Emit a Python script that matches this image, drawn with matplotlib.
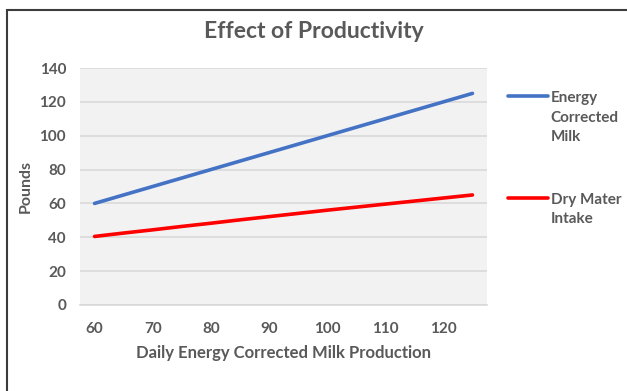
import matplotlib

matplotlib.use("Agg")
import matplotlib.pyplot as plt
from matplotlib.patches import Rectangle
import numpy as np

# daily energy-corrected milk production (lb), plotted as categories
milk_production = [60, 65, 70, 75, 80, 85, 90, 95, 100, 105, 110, 115, 120, 125]
ecm_pounds = [60, 65, 70, 75, 80, 85, 90, 95, 100, 105, 110, 115, 120, 125]
dmi_pounds = [40.5, 42.5, 44.4, 46.4, 48.3, 50.3, 52.2, 54.1, 56.0, 57.8, 59.6, 61.4, 63.2, 65.0]
x_ticks = [60, 70, 80, 90, 100, 110, 120]
y_ticks = [0, 20, 40, 60, 80, 100, 120, 140]

TXT = "#595959"
GRID = "#d9d9d9"
plt.rcParams["font.family"] = ["Lato", "DejaVu Sans"]

W, H = 627, 391
fig = plt.figure(figsize=(W / 100, H / 100), dpi=100)

# outer chart frame (only top and left edges fall inside the crop)
fig.add_artist(Rectangle((6.5 / W, -0.1), 1.2, 1.1 - 9.5 / H, transform=fig.transFigure,
                         fill=False, ec="#3c3c3c", lw=1.5))

ax = fig.add_axes([80 / W, (H - 305) / H, 407 / W, 237 / H])
ax.set_facecolor("#f2f2f2")

ax.plot(milk_production, ecm_pounds, color="#4472c4", lw=2.6, solid_capstyle="round",
        label="Energy\nCorrected\nMilk", zorder=3)
ax.plot(milk_production, dmi_pounds, color="#ff0000", lw=2.6, solid_capstyle="round",
        label="Dry Mater\nIntake", zorder=3)

ax.set_xlim(57.5, 127.5)
ax.set_ylim(0, 140)
ax.set_xticks(x_ticks)
ax.set_yticks(y_ticks)
ax.grid(axis="y", color=GRID, lw=1.2)
ax.set_axisbelow(True)
for s in ("top", "right", "left"):
    ax.spines[s].set_visible(False)
ax.spines["bottom"].set_color(GRID)
ax.spines["bottom"].set_linewidth(1.2)
ax.tick_params(length=0, labelsize=11, labelcolor=TXT)
ax.tick_params(axis="x", pad=12)
ax.tick_params(axis="y", pad=10)
for lab in ax.get_xticklabels() + ax.get_yticklabels():
    lab.set_fontweight("bold")

ax.set_xlabel("Daily Energy Corrected Milk Production", fontsize=12, fontweight="bold",
              color=TXT, labelpad=7)
ax.set_ylabel("Pounds", fontsize=11.5, fontweight="bold", color=TXT, labelpad=5)
fig.text(0.5, 1 - 31 / H, "Effect of Productivity", ha="center", va="center",
         fontsize=16.5, fontweight="bold", color=TXT)

leg = ax.legend(loc="upper left", bbox_to_anchor=(508 / W, 1 - 91 / H),
                bbox_transform=fig.transFigure, frameon=False, borderpad=0,
                borderaxespad=0, handlelength=2.6, handletextpad=0.2,
                labelspacing=3.2, prop={"size": 11, "weight": "bold"})
for t in leg.get_texts():
    t.set_color(TXT)
    t.set_linespacing(1.5)
# line up each handle with the first text line, like the original
for col in leg._legend_handle_box.get_children():
    for row in col.get_children():
        row.align = "top"

fig.savefig("out.png", dpi=100)
